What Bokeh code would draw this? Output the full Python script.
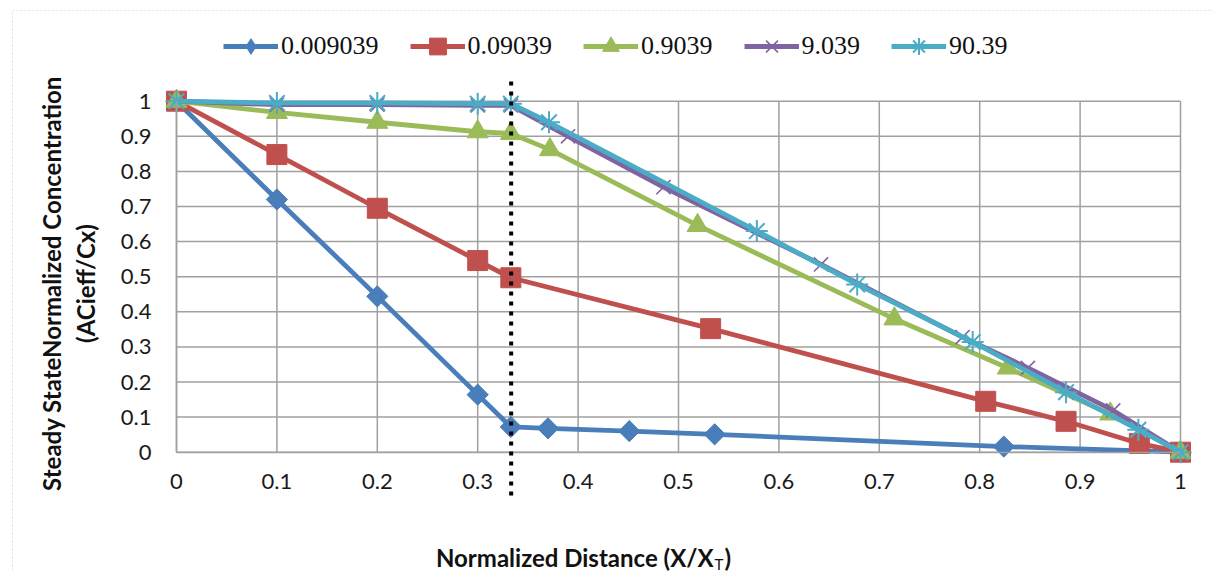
from bokeh.plotting import figure
from bokeh.models import (Range1d, FixedTicker, CustomJSTickFormatter, Legend, LegendItem,
                          Label, Arrow, BoxAnnotation)
from bokeh.embed import file_html
from bokeh.resources import INLINE
import math

# ---------------- data ----------------
series_names = ["0.009039", "0.09039", "0.9039", "9.039", "90.39"]

blue_x = [0, 0.1, 0.2, 0.3, 0.333, 0.37, 0.451, 0.536, 0.824, 1.0]
blue_y = [1, 0.72, 0.444, 0.164, 0.072, 0.068, 0.06, 0.051, 0.016, 0]

red_x = [0, 0.1, 0.2, 0.3, 0.333, 0.532, 0.806, 0.886, 0.959, 1.0]
red_y = [1, 0.848, 0.695, 0.546, 0.497, 0.352, 0.145, 0.088, 0.025, 0]

green_x = [0, 0.1, 0.2, 0.3, 0.333, 0.372, 0.519, 0.715, 0.828, 0.93, 1.0]
green_y = [1, 0.968, 0.94, 0.913, 0.908, 0.862, 0.646, 0.38, 0.24, 0.109, 0]

purple_x = [0, 0.1, 0.2, 0.3, 0.333, 0.39, 0.485, 0.642, 0.783, 0.848, 0.933, 1.0]
purple_y = [1, 0.99, 0.99, 0.988, 0.988, 0.9, 0.755, 0.535, 0.328, 0.24, 0.119, 0]

cyan_x = [0, 0.1, 0.2, 0.3, 0.333, 0.371, 0.578, 0.678, 0.793, 0.886, 0.958, 1.0]
cyan_y = [1, 0.995, 0.995, 0.993, 0.993, 0.94, 0.63, 0.478, 0.314, 0.171, 0.064, 0]

boundary_x = 1 / 3

x_ticks = [0, 0.1, 0.2, 0.3, 0.4, 0.5, 0.6, 0.7, 0.8, 0.9, 1.0]
x_tick_labels = ["0", "0.1", "0.2", "0.3", "0.4", "0.5", "0.6", "0.7", "0.8", "0.9", "1"]
y_ticks = [0, 0.1, 0.2, 0.3, 0.4, 0.5, 0.6, 0.7, 0.8, 0.9, 1.0]
y_tick_labels = ["0", "0.1", "0.2", "0.3", "0.4", "0.5", "0.6", "0.7", "0.8", "0.9", "1"]

x_title = "Normalized Distance (X/X"
x_title_sub = "T"
x_title_end = ")"
y_title_1 = "Steady StateNormalized Concentration"
y_title_2 = "(ACieff/Cx)"

# ---------------- layout ----------------
# The frame covers the whole canvas; the 0..1 plot box sits inside it.
W, H = 1213, 572
BOX_L, BOX_R, BOX_T, BOX_B = 176.0, 1180.0, 100.7, 451.7
SX = BOX_R - BOX_L
SY = BOX_B - BOX_T

def cx(px):
    return (px - BOX_L) / SX

def cy(py):
    return (BOX_B - py) / SY

p = figure(width=W, height=H, output_backend="svg", toolbar_location=None,
           x_range=Range1d(cx(0), cx(W)), y_range=Range1d(cy(H), cy(0)),
           min_border_left=0, min_border_right=0, min_border_top=0, min_border_bottom=0)
p.outline_line_color = None
p.background_fill_color = "white"
p.border_fill_color = "white"
p.xgrid.visible = False
p.ygrid.visible = False

GRID = "#a0a0a0"
# grid lines bounded to the 0..1 box
p.segment(x0=x_ticks, y0=[0] * len(x_ticks), x1=x_ticks, y1=[1] * len(x_ticks),
          line_color=GRID, line_width=1.5)
p.segment(x0=[0] * len(y_ticks), y0=y_ticks, x1=[1] * len(y_ticks), y1=y_ticks,
          line_color=GRID, line_width=1.5)

fmt_code = """
const i = tvals.findIndex(t => Math.abs(t - tick) < 1e-9);
return i >= 0 ? tlabels[i] : '';
"""
for ax, tv, tl in ((p.xaxis[0], x_ticks, x_tick_labels), (p.yaxis[0], y_ticks, y_tick_labels)):
    ax.ticker = FixedTicker(ticks=tv)
    ax.formatter = CustomJSTickFormatter(args=dict(tvals=tv, tlabels=tl), code=fmt_code)
    ax.fixed_location = 0
    ax.bounds = (0, 1)
    ax.axis_line_color = GRID
    ax.axis_line_width = 1.5
    ax.major_tick_out = 0
    ax.major_tick_in = 0
    ax.minor_tick_out = 0
    ax.minor_tick_in = 0
    ax.major_label_text_font = "Lato"
    ax.major_label_text_font_size = "22px"
    ax.major_label_text_color = "#1a1a1a"
p.yaxis[0].major_label_standoff = 25
p.xaxis[0].major_label_standoff = 22

LW = 4.8
colors = ["#4a7ebb", "#c0504d", "#9bbb59", "#8064a2", "#4bacc6"]

items = []
# blue diamonds
l1 = p.line(blue_x, blue_y, line_color=colors[0], line_width=LW)
m1 = p.scatter(blue_x, blue_y, marker="square", angle=math.pi / 4, size=15,
               fill_color=colors[0], line_color=colors[0])
# zero-size twin of the blue points, only so that the legend shows a diamond
k1 = p.scatter(blue_x, blue_y, marker="diamond", size=0, fill_color=colors[0], line_color=colors[0],
               line_width=0)
items.append(LegendItem(label=series_names[0], renderers=[l1, k1]))
# red squares
l2 = p.line(red_x, red_y, line_color=colors[1], line_width=LW)
m2 = p.scatter(red_x, red_y, marker="square", size=20, fill_color=colors[1], line_color=colors[1])
items.append(LegendItem(label=series_names[1], renderers=[l2, m2]))
# green triangles
l3 = p.line(green_x, green_y, line_color=colors[2], line_width=LW)
m3 = p.scatter(green_x, green_y, marker="triangle", size=21, fill_color=colors[2], line_color=colors[2])
items.append(LegendItem(label=series_names[2], renderers=[l3, m3]))
# purple x
l4 = p.line(purple_x, purple_y, line_color=colors[3], line_width=LW)
m4 = p.scatter(purple_x, purple_y, marker="x", size=20, line_color=colors[3], line_width=1.6)
items.append(LegendItem(label=series_names[3], renderers=[l4, m4]))
# cyan asterisks
l5 = p.line(cyan_x, cyan_y, line_color=colors[4], line_width=LW)
m5 = p.scatter(cyan_x, cyan_y, marker="asterisk", size=22, line_color=colors[4], line_width=2)
items.append(LegendItem(label=series_names[4], renderers=[l5, m5]))

LEG_GH = 42
legend = Legend(items=items, orientation="horizontal", location=(223, H - 46 - LEG_GH / 2),
                glyph_width=55, glyph_height=LEG_GH, label_standoff=3, spacing=31,
                padding=0, margin=0, background_fill_alpha=0, border_line_color=None,
                label_text_font="Liberation Serif", label_text_font_size="26px",
                label_text_color="#111111")
p.add_layout(legend)

# dotted boundary line at x = 1/3
p.add_layout(Arrow(end=None, x_start=boundary_x, y_start=cy(495), x_end=boundary_x, y_end=cy(81),
                   line_color="black", line_width=4, line_dash="4 6"))

# axis titles
TITLE_FONT = "Lato"
TS = "24px"
p.add_layout(Label(x=cx(713), y=cy(557), text=x_title, text_align="right", text_baseline="middle",
                   text_font=TITLE_FONT, text_font_style="bold", text_font_size=TS,
                   text_color="#111111"))
p.add_layout(Label(x=cx(714), y=cy(563), text=x_title_sub, text_align="left", text_baseline="middle",
                   text_font=TITLE_FONT, text_font_size="15px", text_color="#111111"))
p.add_layout(Label(x=cx(724), y=cy(557), text=x_title_end, text_align="left", text_baseline="middle",
                   text_font=TITLE_FONT, text_font_style="bold", text_font_size=TS,
                   text_color="#111111"))
p.add_layout(Label(x=cx(51), y=cy(283), text=y_title_1, angle=math.pi / 2, text_align="center",
                   text_baseline="middle", text_font=TITLE_FONT, text_font_style="bold",
                   text_font_size=TS, text_color="#111111"))
p.add_layout(Label(x=cx(85), y=cy(283), text=y_title_2, angle=math.pi / 2, text_align="center",
                   text_baseline="middle", text_font=TITLE_FONT, text_font_style="bold",
                   text_font_size=TS, text_color="#111111"))

# dotted outer chart border
p.add_layout(BoxAnnotation(left=cx(12), right=cx(1240), top=cy(10), bottom=cy(620),
                           fill_alpha=0, line_color="#999999", line_width=1, line_dash="2 2"))

open("out.html", "w").write(file_html(p, INLINE))
